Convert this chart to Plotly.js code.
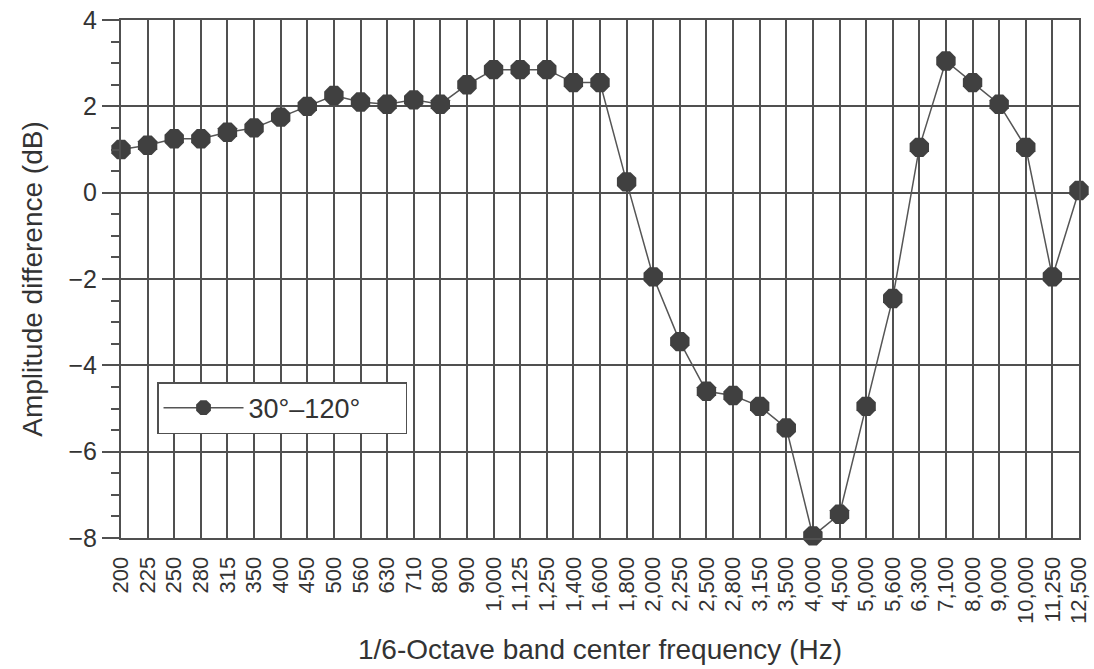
<!DOCTYPE html>
<html>
<head>
<meta charset="utf-8">
<script src="https://cdn.plot.ly/plotly-3.0.1.min.js"></script>
<style>html,body{margin:0;padding:0;background:#fff;}#chart{width:1094px;height:669px;}</style>
</head>
<body>
<div id="chart"></div>
<script>
const frequencies = ["200","225","250","280","315","350","400","450","500","560","630","710","800","900",
  "1,000","1,125","1,250","1,400","1,600","1,800","2,000","2,250","2,500","2,800","3,150","3,500",
  "4,000","4,500","5,000","5,600","6,300","7,100","8,000","9,000","10,000","11,250","12,500"];
const amplitudeDiff = [1.0,1.1,1.25,1.25,1.4,1.5,1.75,2.0,2.25,2.1,2.05,2.15,2.05,2.5,
  2.85,2.85,2.85,2.55,2.55,0.25,-1.95,-3.45,-4.6,-4.7,-4.95,-5.45,
  -7.95,-7.45,-4.95,-2.45,1.05,3.05,2.55,2.05,1.05,-1.95,0.05];
const seriesName = "30°–120°";
const yTicks = [-8,-6,-4,-2,0,2,4];

const gridColor = "#505050";
const fontFam = "Liberation Sans, Arial, sans-serif";

const trace = {
  x: frequencies, y: amplitudeDiff, name: seriesName,
  type: "scatter", mode: "lines+markers", cliponaxis: false,
  line: {color: "#555555", width: 1.5},
  marker: {symbol: "octagon", size: 21, color: "#404040", line: {width: 0}}
};

const layout = {
  width: 1094, height: 669,
  margin: {l: 121, r: 15, t: 20, b: 131},
  paper_bgcolor: "#fff", plot_bgcolor: "#fff",
  font: {family: fontFam, color: "#333", size: 18},
  showlegend: true,
  legend: {
    x: 0.0376, y: 0.301, xanchor: "left", yanchor: "top",
    orientation: "h", entrywidth: 152, entrywidthmode: "pixels",
    bordercolor: gridColor, borderwidth: 1.5, bgcolor: "#fff",
    font: {size: 27, color: "#333"}, itemwidth: 80,
    tracegroupgap: 0
  },
  xaxis: {
    type: "category", range: [0, frequencies.length - 1],
    tickmode: "linear", tick0: 0, dtick: 1,
    showgrid: true, gridcolor: gridColor, gridwidth: 2,
    showline: true, mirror: true, linecolor: gridColor, linewidth: 2,
    ticks: "outside", ticklen: 8, tickcolor: "rgba(0,0,0,0)",
    tickangle: -90, tickfont: {size: 22, color: "#333"},
    zeroline: false,
    title: {text: "1/6-Octave band center frequency (Hz)", font: {size: 28, color: "#333"}, standoff: 16}
  },
  yaxis: {
    range: [-8, 4], tickvals: yTicks,
    showgrid: true, gridcolor: gridColor, gridwidth: 2,
    showline: true, mirror: true, linecolor: gridColor, linewidth: 2,
    ticks: "outside", ticklen: 17, tickwidth: 2, tickcolor: gridColor,
    minor: {dtick: 0.5, ticks: "outside", ticklen: 8, tickwidth: 2, tickcolor: gridColor, showgrid: false},
    tickfont: {size: 25, color: "#333"},
    zeroline: false,
    title: {text: "Amplitude difference (dB)", font: {size: 28, color: "#333"}, standoff: 18}
  }
};

Plotly.newPlot("chart", [trace], layout, {displayModeBar: false, staticPlot: true});
</script>
</body>
</html>
